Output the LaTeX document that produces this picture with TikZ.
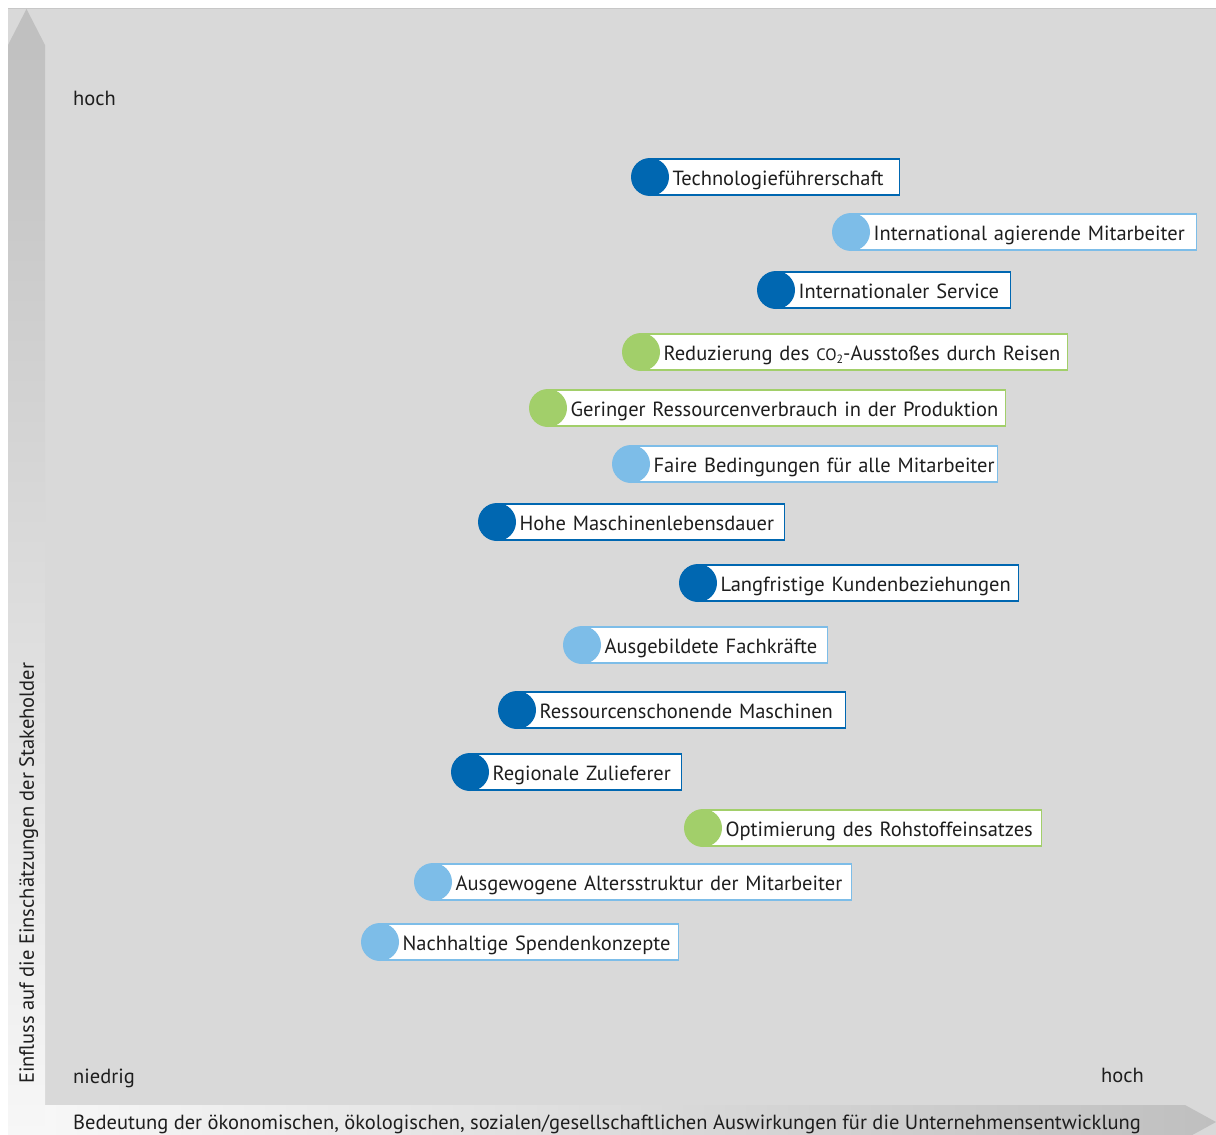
\documentclass[tikz,border=0pt]{standalone}
\usepackage{fontspec}
\setmainfont{PT Sans}
\usetikzlibrary{shapes.geometric}
\definecolor{darkblue}{HTML}{0067B1}
\definecolor{lightblue}{HTML}{7DBDE8}
\definecolor{leafgreen}{HTML}{A2CF6A}
\definecolor{bggray}{HTML}{D9D9D9}
\definecolor{arrowgray}{HTML}{BFBFBF}
\definecolor{arrowlight}{HTML}{F7F7F7}
\definecolor{txt}{HTML}{1E1E1E}
\tikzset{
  itembox/.style={rectangle, fill=white, line width=1.2pt, anchor=west,
    minimum height=36pt, inner xsep=0pt, inner ysep=0pt, align=left,
    text height=16pt, text depth=0pt,
    font=\fontsize{20.5}{24}\selectfont, text=txt},
  itemdot/.style={circle, inner sep=0pt, minimum size=38pt},
  axislabel/.style={font=\fontsize{20.5}{24}\selectfont, text=txt, inner sep=0pt}
}
\newcommand\matitem[6]{%
  \pgfmathsetmacro\itemw{#4-#2}%
  \node[itembox, draw=#5, text width=\itemw pt] (n#1) at (#2,#3) {\hspace*{22pt}#6};
  \node[itemdot, fill=#5] (d#1) at (#2,#3) {};
}
\begin{document}
\begin{tikzpicture}[x=1pt,y=-1pt]
\useasboundingbox (0,0) rectangle (1216,1135);
\begin{scope}
\clip (0,0) rectangle (1216,1135);
\fill[bggray] (8,9) rectangle (1216,1135);
\draw[color=black!22, line width=1.5pt] (8,8.5) -- (1216,8.5);
\shade[top color=arrowgray, bottom color=arrowlight] (8,1135) -- (8,45) -- (26.5,9) -- (45,45) -- (45,1135) -- cycle;
\shade[left color=arrowlight, right color=arrowgray] (45,1105) -- (1185,1105) -- (1216,1122) -- (1185,1139) -- (45,1139) -- cycle;
\end{scope}

\node[axislabel, anchor=base west] (yhigh) at (73,105) {hoch};
\node[axislabel, anchor=base west] (ylow) at (73,1083) {niedrig};
\node[axislabel, anchor=base east] (xhigh) at (1144,1082) {hoch};
\node[axislabel, anchor=base west] (xlabel) at (73,1129) {Bedeutung der ökonomischen, ökologischen, sozialen/gesellschaftlichen Auswirkungen für die Unternehmensentwicklung};
\node[axislabel, anchor=base west, rotate=90] (ylabel) at (34,1084) {Einfluss auf die Einschätzungen der Stakeholder};

\matitem{1}{650}{177}{899}{darkblue}{Technologieführerschaft}
\matitem{2}{851}{232}{1196}{lightblue}{International agierende Mitarbeiter}
\matitem{3}{776}{290}{1010}{darkblue}{Internationaler Service}
\matitem{4}{641}{352}{1067}{leafgreen}{Reduzierung des {\fontsize{16.5}{16}\selectfont CO}\raisebox{-0.35ex}{\fontsize{12}{12}\selectfont 2}-Ausstoßes durch Reisen}
\matitem{5}{548}{408}{1005}{leafgreen}{Geringer Ressourcenverbrauch in der Produktion}
\matitem{6}{631}{464}{997}{lightblue}{Faire Bedingungen für alle Mitarbeiter}
\matitem{7}{497}{522}{784}{darkblue}{Hohe Maschinenlebensdauer}
\matitem{8}{698}{583}{1018}{darkblue}{Langfristige Kundenbeziehungen}
\matitem{9}{582}{645}{827}{lightblue}{Ausgebildete Fachkräfte}
\matitem{10}{517}{710}{845}{darkblue}{Ressourcenschonende Maschinen}
\matitem{11}{470}{772}{681}{darkblue}{Regionale Zulieferer}
\matitem{12}{703}{828}{1041}{leafgreen}{Optimierung des Rohstoffeinsatzes}
\matitem{13}{433}{882}{851}{lightblue}{Ausgewogene Altersstruktur der Mitarbeiter}
\matitem{14}{380}{942}{678}{lightblue}{Nachhaltige Spendenkonzepte}
\end{tikzpicture}
\end{document}
